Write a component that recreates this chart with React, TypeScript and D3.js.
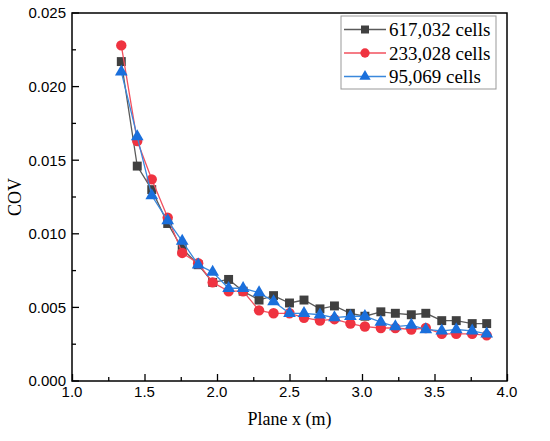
import { useEffect, useRef } from 'react'
import * as d3 from 'd3'

// plane positions (m)
const planeX = [1.34, 1.45, 1.55, 1.66, 1.76, 1.87, 1.97, 2.08, 2.18, 2.29, 2.39, 2.5, 2.6, 2.71, 2.81, 2.92, 3.02, 3.13, 3.23, 3.34, 3.44, 3.55, 3.65, 3.76, 3.86]

const cov617k = [0.0217, 0.0146, 0.013, 0.0107, 0.009, 0.0079, 0.0067, 0.0069, 0.0061, 0.0055, 0.0058, 0.0053, 0.0055, 0.0049, 0.0051, 0.0046, 0.0044, 0.0047, 0.0046, 0.0045, 0.0046, 0.0041, 0.0041, 0.0039, 0.0039]
const cov233k = [0.0228, 0.0163, 0.0137, 0.0111, 0.0087, 0.008, 0.0067, 0.0061, 0.0061, 0.0048, 0.0046, 0.0046, 0.0043, 0.0041, 0.0042, 0.0039, 0.0037, 0.0036, 0.0036, 0.0035, 0.0036, 0.0032, 0.0032, 0.0032, 0.0031]
const cov95k = [0.021, 0.0166, 0.0126, 0.0109, 0.0095, 0.0079, 0.0074, 0.0063, 0.0063, 0.006, 0.0054, 0.0046, 0.0046, 0.0045, 0.0043, 0.0044, 0.0044, 0.004, 0.0037, 0.0038, 0.0035, 0.0034, 0.0035, 0.0034, 0.0032]

const seriesNames = ['617,032 cells', '233,028 cells', '95,069 cells']
const xTicks = [1.0, 1.5, 2.0, 2.5, 3.0, 3.5, 4.0]
const yTicks = [0, 0.005, 0.01, 0.015, 0.02, 0.025]

export default function App() {
  const ref = useRef<SVGSVGElement>(null)

  useEffect(() => {
    if (!ref.current) return
    const svg = d3.select(ref.current)
    svg.selectAll('*').remove()

    const left = 72, right = 507, top = 13, bottom = 381
    const x = d3.scaleLinear().domain([1, 4]).range([left, right])
    const y = d3.scaleLinear().domain([0, 0.025]).range([bottom, top])

    svg.append('rect').attr('width', 550).attr('height', 441).attr('fill', '#fff')

    const series = [
      { name: seriesNames[0], values: cov617k, line: '#5a5a5a', fill: '#404040', shape: d3.symbolSquare, size: 80 },
      { name: seriesNames[1], values: cov233k, line: '#f2505e', fill: '#ef3340', shape: d3.symbolCircle, size: 85 },
      { name: seriesNames[2], values: cov95k, line: '#3a88dc', fill: '#1a6fdc', shape: d3.symbolTriangle, size: 70 },
    ]

    const lineGen = d3.line<number>()
      .x((_, i) => x(planeX[i]))
      .y(d => y(d))

    series.forEach(s => {
      svg.append('path')
        .attr('d', lineGen(s.values))
        .attr('fill', 'none')
        .attr('stroke', s.line)
        .attr('stroke-width', 1.3)
      svg.append('g')
        .selectAll('path')
        .data(s.values)
        .enter()
        .append('path')
        .attr('d', d3.symbol().type(s.shape).size(s.size)())
        .attr('transform', (d, i) => `translate(${x(planeX[i])},${y(d)})`)
        .attr('fill', s.fill)
    })

    // frame
    svg.append('rect')
      .attr('x', left).attr('y', top)
      .attr('width', right - left).attr('height', bottom - top)
      .attr('fill', 'none').attr('stroke', '#000').attr('stroke-width', 1.5)

    // x axis
    const xAxis = d3.axisBottom(x)
      .tickValues(d3.range(1, 4.01, 0.25))
      .tickSize(0)
      .tickFormat(() => '')
    const gx = svg.append('g').attr('transform', `translate(0,${bottom})`).call(xAxis)
    gx.select('.domain').remove()
    gx.selectAll('.tick line').remove()
    gx.selectAll('.tick').append('line')
      .attr('y2', (d: any) => (Math.abs(d * 2 - Math.round(d * 2)) < 1e-6 ? -7 : -4))
      .attr('stroke', '#000').attr('stroke-width', 1.3)

    svg.append('g').selectAll('text')
      .data(xTicks)
      .enter()
      .append('text')
      .attr('x', d => x(d))
      .attr('y', 397)
      .attr('text-anchor', 'middle')
      .style('font-family', '"Liberation Sans", Arial, sans-serif')
      .style('font-size', '15px')
      .text(d => d3.format('.1f')(d))

    // y axis
    const gy = svg.append('g').attr('transform', `translate(${left},0)`)
    gy.selectAll('line')
      .data(d3.range(0, 0.02501, 0.0025))
      .enter()
      .append('line')
      .attr('x1', 0)
      .attr('x2', (d, i) => (i % 2 === 0 ? 7 : 4))
      .attr('y1', d => y(d)).attr('y2', d => y(d))
      .attr('stroke', '#000').attr('stroke-width', 1.3)

    svg.append('g').selectAll('text')
      .data(yTicks)
      .enter()
      .append('text')
      .attr('x', 66)
      .attr('y', d => y(d))
      .attr('dy', '0.36em')
      .attr('text-anchor', 'end')
      .style('font-family', '"Liberation Sans", Arial, sans-serif')
      .style('font-size', '15px')
      .text(d => d3.format('.3f')(d))

    // axis titles
    svg.append('text')
      .attr('x', (left + right) / 2)
      .attr('y', 425)
      .attr('text-anchor', 'middle')
      .style('font-family', '"Liberation Serif", "Times New Roman", serif')
      .style('font-size', '18px')
      .text('Plane x (m)')

    svg.append('text')
      .attr('transform', `translate(21,${(top + bottom) / 2}) rotate(-90)`)
      .attr('text-anchor', 'middle')
      .style('font-family', '"Liberation Serif", "Times New Roman", serif')
      .style('font-size', '18px')
      .text('COV')

    // legend
    const lg = svg.append('g')
    lg.append('rect')
      .attr('x', 341).attr('y', 16)
      .attr('width', 155).attr('height', 73)
      .attr('fill', '#fff').attr('stroke', '#999').attr('stroke-width', 1)
    series.forEach((s, i) => {
      const cy = 29.5 + i * 23.5
      lg.append('line')
        .attr('x1', 344).attr('x2', 386)
        .attr('y1', cy).attr('y2', cy)
        .attr('stroke', s.line).attr('stroke-width', 1.3)
      lg.append('path')
        .attr('d', d3.symbol().type(s.shape).size(s.size * 0.8)())
        .attr('transform', `translate(365,${cy})`)
        .attr('fill', s.fill)
      lg.append('text')
        .attr('x', 389).attr('y', cy + 6.5)
        .style('font-family', '"Liberation Serif", "Times New Roman", serif')
        .style('font-size', '19px')
        .text(s.name)
    })
  }, [])

  return (
    <svg ref={ref} width={550} height={441} style={{ position: 'absolute', left: 0, top: 0 }} />
  )
}
